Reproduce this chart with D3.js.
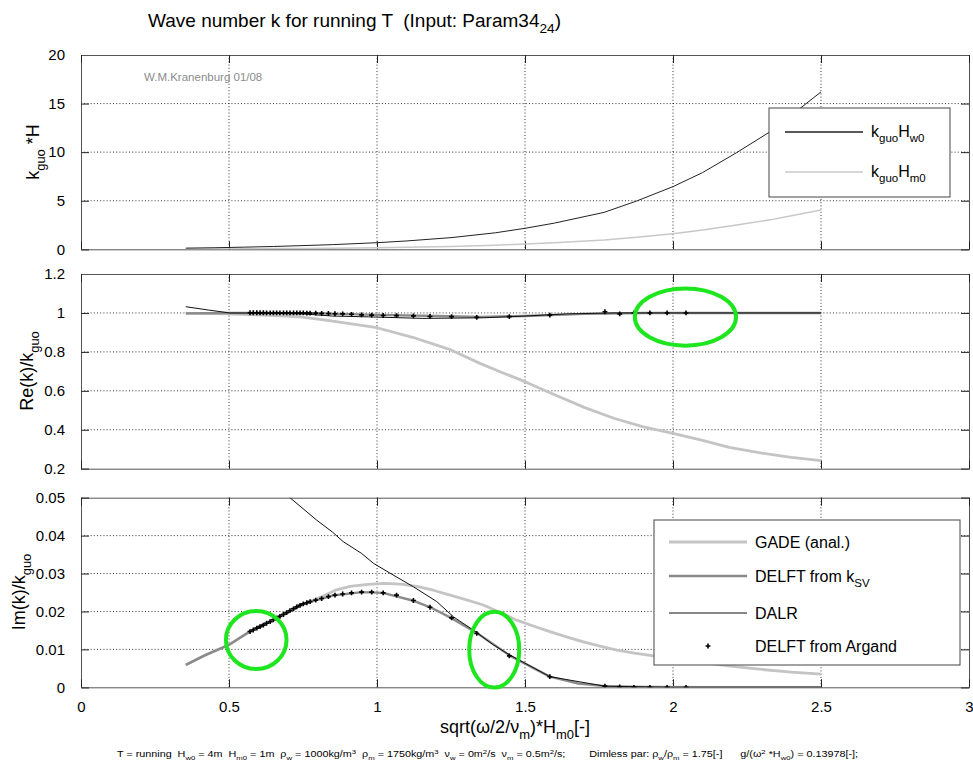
<!DOCTYPE html>
<html><head><meta charset="utf-8">
<script src="https://cdn.jsdelivr.net/npm/d3@7/dist/d3.min.js"></script>
<style>
body{margin:0;background:#fff}
svg text{font-family:"Liberation Sans",Arial,Helvetica,sans-serif;white-space:pre}
</style>
</head><body>
<svg id="c" width="973" height="769"></svg>
<script>
// ---------------- DATA ----------------
const xTicks = [0, 0.5, 1, 1.5, 2, 2.5, 3];
const xTickLabels = ["0", "0.5", "1", "1.5", "2", "2.5", "3"];
const topTicks = [0, 5, 10, 15, 20];
const topTickLabels = ["0", "5", "10", "15", "20"];
const midTicks = [0.2, 0.4, 0.6, 0.8, 1, 1.2];
const midTickLabels = ["0.2", "0.4", "0.6", "0.8", "1", "1.2"];
const botTicks = [0, 0.01, 0.02, 0.03, 0.04, 0.05];
const botTickLabels = ["0", "0.01", "0.02", "0.03", "0.04", "0.05"];

// top panel: k_guo * H
const kguoX   = [0.354, 0.45, 0.55, 0.65, 0.75, 0.85, 1.0, 1.1, 1.25, 1.4, 1.5, 1.6, 1.767, 1.877, 2.0, 2.1, 2.215, 2.328, 2.4, 2.5];
const kguoHw0 = [0.12, 0.16, 0.22, 0.29, 0.38, 0.48, 0.68, 0.86, 1.2, 1.7, 2.16, 2.7, 3.8, 4.97, 6.45, 7.9, 9.95, 12.1, 13.8, 16.2];
const kguoHm0 = [0.03, 0.04, 0.055, 0.0725, 0.095, 0.12, 0.17, 0.215, 0.3, 0.425, 0.54, 0.675, 0.95, 1.24, 1.61, 1.975, 2.49, 3.03, 3.45, 4.05];

// middle panel: Re(k)/k_guo
const gadeReX = [0.354, 0.5, 0.6, 0.74, 0.82, 0.85, 1.0, 1.12, 1.25, 1.348, 1.416, 1.5, 1.6, 1.7, 1.8, 1.9, 2.0, 2.1, 2.19, 2.3, 2.4, 2.5];
const gadeRe  = [0.998, 0.995, 0.99, 0.98, 0.964, 0.958, 0.924, 0.875, 0.81, 0.741, 0.698, 0.647, 0.58, 0.515, 0.459, 0.415, 0.382, 0.345, 0.31, 0.28, 0.258, 0.241];
const ksvReX  = [0.354, 0.5, 0.6, 0.8, 1.0, 1.2, 1.35, 1.5, 1.7, 1.9, 2.0, 2.5];
const ksvRe   = [0.998, 1.0, 1.0, 0.998, 0.99, 0.984, 0.98, 0.984, 0.995, 1.0, 1.0, 1.0];
const dalrReX = [0.354, 0.43, 0.503, 0.6, 0.75, 0.85, 0.97, 1.155, 1.36, 1.5, 1.64, 1.8, 2.0, 2.5];
const dalrRe  = [1.032, 1.015, 1.0, 0.999, 0.995, 0.984, 0.98, 0.972, 0.975, 0.984, 0.995, 1.0, 1.0, 1.0];

// bottom panel: Im(k)/k_guo
const gadeImX = [0.354, 0.42, 0.5, 0.571, 0.661, 0.729, 0.796, 0.86, 0.909, 0.96, 1.021, 1.08, 1.134, 1.19, 1.247, 1.3, 1.359, 1.42, 1.472, 1.53, 1.584, 1.64, 1.697, 1.75, 1.81, 1.87, 1.934, 2.0, 2.1, 2.2, 2.3, 2.4, 2.5];
const gadeIm  = [0.0059, 0.0085, 0.0112, 0.0148, 0.0184, 0.0214, 0.0233, 0.0256, 0.0266, 0.0271, 0.0274, 0.0272, 0.0266, 0.0256, 0.0243, 0.0231, 0.0217, 0.0196, 0.0177, 0.0161, 0.0147, 0.0133, 0.0120, 0.0109, 0.0098, 0.0090, 0.0083, 0.0076, 0.0065, 0.0055, 0.0047, 0.0040, 0.0035];
const ksvImX  = [0.354, 0.42, 0.5, 0.571, 0.661, 0.75, 0.85, 0.95, 1.02, 1.12, 1.18, 1.25, 1.34, 1.45, 1.584, 1.68, 1.77, 1.9, 2.1, 2.3, 2.5];
const ksvIm   = [0.0059, 0.0085, 0.0112, 0.0147, 0.0182, 0.0220, 0.0242, 0.0251, 0.0249, 0.0229, 0.0211, 0.0183, 0.0142, 0.0083, 0.0028, 0.0010, 0.0003, 0.0001, 0, 0, 0];
const dalrImX = [0.354, 0.45, 0.55, 0.65, 0.706, 0.796, 0.85, 0.886, 0.948, 0.988, 1.044, 1.123, 1.202, 1.258, 1.325, 1.393, 1.449, 1.584, 1.77, 2.0, 2.5];
const dalrIm  = [0.085, 0.072, 0.062, 0.054, 0.050, 0.0441, 0.0409, 0.0384, 0.0353, 0.0327, 0.0301, 0.0265, 0.0226, 0.0186, 0.0151, 0.0112, 0.0085, 0.0028, 0.0003, 0.0, 0.0];

// DELFT from Argand (markers)
const argandX  = [0.571, 0.582, 0.594, 0.605, 0.616, 0.627, 0.639, 0.650, 0.661, 0.672, 0.684, 0.695, 0.706, 0.718, 0.729, 0.740, 0.751, 0.763, 0.774,
                  0.793, 0.813, 0.836, 0.858, 0.884, 0.914, 0.948, 0.982, 1.021, 1.066, 1.123, 1.179, 1.252, 1.337, 1.447, 1.584, 1.770, 1.820, 1.868, 1.922, 1.980, 2.044];
const argandRe = [1.001, 1.001, 1.001, 1.001, 1.001, 1.0, 1.0, 1.0, 1.0, 1.0, 1.0, 1.0, 1.0, 1.0, 1.0, 1.0, 1.0, 0.999, 0.999,
                  0.999, 0.998, 0.997, 0.996, 0.995, 0.993, 0.990, 0.989, 0.987, 0.986, 0.985, 0.982, 0.981, 0.977, 0.981, 0.989, 1.006, 0.995, 1.0, 1.0, 1.0, 1.0];
const argandIm = [0.0147, 0.0151, 0.0156, 0.0160, 0.0164, 0.0169, 0.0173, 0.0178, 0.0182, 0.0187, 0.0192, 0.0197, 0.0202, 0.0207, 0.0212, 0.0216, 0.0220, 0.0223, 0.0226,
                  0.0230, 0.0234, 0.0239, 0.0243, 0.0246, 0.0249, 0.0251, 0.0251, 0.0249, 0.0243, 0.0229, 0.0211, 0.0183, 0.0142, 0.0083, 0.0028, 0.0003, 0.0001, 0, 0, 0, 0];

const legendTop = ["k_guo H_w0", "k_guo H_m0"];
const legendBot = ["GADE (anal.)", "DELFT from k_SV", "DALR", "DELFT from Argand"];

// ---------------- LAYOUT / STYLE ----------------
const svg = d3.select("#c");
const X0 = 81, X1 = 969;
const x = d3.scaleLinear().domain([0, 3]).range([X0, X1]);
const C = {gade: "#c4c4c4", ksv: "#8a8a8a", dalr: "#111", hw0: "#222", hm0: "#c8c8c8", frame: "#555", green: "#1ee61e"};
const FONT = 15;

function rich(t, parts, size) {
  let off = 0;
  parts.forEach(p => {
    const target = p.sub ? size * 0.32 : p.sup ? -size * 0.38 : 0;
    const ts = t.append("tspan").attr("dy", target - off).text(p.t);
    if (p.sub || p.sup) ts.attr("font-size", size * 0.72);
    off = target;
  });
}

function panel(top, bottom, domain, ticks, labels, id, showX) {
  const y = d3.scaleLinear().domain(domain).range([bottom, top]);
  const g = svg.append("g");
  svg.append("clipPath").attr("id", id).append("rect")
    .attr("x", X0).attr("y", top).attr("width", X1 - X0).attr("height", bottom - top);
  const grid = g.append("g").attr("stroke", "#000").attr("stroke-width", 0.8).attr("stroke-dasharray", "1,2.2");
  xTicks.slice(1, -1).forEach(v => grid.append("line").attr("x1", x(v)).attr("x2", x(v)).attr("y1", top).attr("y2", bottom));
  ticks.slice(1, -1).forEach(v => grid.append("line").attr("x1", X0).attr("x2", X1).attr("y1", y(v)).attr("y2", y(v)));
  const axL = d3.axisLeft(y).tickValues(ticks).tickSize(-8).tickPadding(16).tickFormat((d, i) => labels[i]);
  const axR = d3.axisRight(y).tickValues(ticks).tickSize(-8).tickFormat("");
  const axB = d3.axisBottom(x).tickValues(xTicks).tickSize(-8).tickPadding(14).tickFormat((d, i) => showX ? xTickLabels[i] : "");
  const axT = d3.axisTop(x).tickValues(xTicks).tickSize(-8).tickFormat("");
  [[axL, `translate(${X0},0)`], [axR, `translate(${X1},0)`], [axB, `translate(0,${bottom})`], [axT, `translate(0,${top})`]].forEach(([ax, tr]) => {
    const a = g.append("g").attr("transform", tr).call(ax);
    a.select(".domain").attr("stroke", C.frame);
    a.selectAll(".tick line").attr("stroke", "#222");
    a.selectAll(".tick text").attr("font-size", FONT).attr("fill", "#000")
      .attr("font-family", '"Liberation Sans",Arial,sans-serif');
  });
  const plot = svg.append("g").attr("clip-path", `url(#${id})`);
  return {y, plot, top, bottom};
}

function line(p, xs, ys, color, w) {
  const data = xs.map((v, i) => [v, ys[i]]);
  p.plot.append("path").datum(data)
    .attr("d", d3.line().x(d => x(d[0])).y(d => p.y(d[1])))
    .attr("fill", "none").attr("stroke", color).attr("stroke-width", w).attr("stroke-linejoin", "round");
}
const cross = d3.symbol().type(d3.symbolCross).size(13);
function markers(p, xs, ys) {
  p.plot.append("g").selectAll("path").data(xs.map((v, i) => [v, ys[i]])).join("path")
    .attr("d", cross).attr("transform", d => `translate(${x(d[0])},${p.y(d[1])})`).attr("fill", "#000");
}

const P1 = panel(55, 249.3, [0, 20], topTicks, topTickLabels, "cp1", false);
const P2 = panel(274, 468.7, [0.2, 1.2], midTicks, midTickLabels, "cp2", false);
const P3 = panel(497.7, 687.3, [0, 0.05], botTicks, botTickLabels, "cp3", true);

line(P1, kguoX, kguoHm0, C.hm0, 1.5);
line(P1, kguoX, kguoHw0, C.hw0, 1);
line(P2, gadeReX, gadeRe, C.gade, 2.8);
line(P2, ksvReX, ksvRe, C.ksv, 2.4);
line(P2, dalrReX, dalrRe, C.dalr, 1);
markers(P2, argandX, argandRe);
line(P3, gadeImX, gadeIm, C.gade, 2.8);
line(P3, ksvImX, ksvIm, C.ksv, 2.4);
line(P3, dalrImX, dalrIm, C.dalr, 1);
markers(P3, argandX, argandIm);

svg.append("text").attr("x", 144).attr("y", 81).attr("font-size", 11.5).attr("fill", "#8c8c8c").text("W.M.Kranenburg 01/08");

rich(svg.append("text").attr("x", 148).attr("y", 27).attr("font-size", 19),
  [{t: "Wave number k for running T  (Input: Param34"}, {t: "24", sub: 1}, {t: ")"}], 19);

const LAB = 18;
rich(svg.append("text").attr("transform", "translate(39,152) rotate(-90)").attr("text-anchor", "middle").attr("font-size", LAB),
  [{t: "k"}, {t: "guo", sub: 1}, {t: " *H"}], LAB);
rich(svg.append("text").attr("transform", "translate(33,371) rotate(-90)").attr("text-anchor", "middle").attr("font-size", LAB),
  [{t: "Re(k)/k"}, {t: "guo", sub: 1}], LAB);
rich(svg.append("text").attr("transform", "translate(25,592) rotate(-90)").attr("text-anchor", "middle").attr("font-size", LAB),
  [{t: "Im(k)/k"}, {t: "guo", sub: 1}], LAB);

rich(svg.append("text").attr("x", 515).attr("y", 733).attr("text-anchor", "middle").attr("font-size", LAB),
  [{t: "sqrt(\u03c9/2/\u03bd"}, {t: "m", sub: 1}, {t: ")*H"}, {t: "m0", sub: 1}, {t: "[-]"}], LAB);

const note = svg.append("text").attr("x", 117).attr("y", 757).attr("font-size", 8.5)
  .attr("textLength", 741).attr("lengthAdjust", "spacingAndGlyphs");
rich(note, [
  {t: "T = running  H"}, {t: "w0", sub: 1}, {t: " = 4m  H"}, {t: "m0", sub: 1}, {t: " = 1m  \u03c1"}, {t: "w", sub: 1},
  {t: " = 1000kg/m"}, {t: "3", sup: 1}, {t: "  \u03c1"}, {t: "m", sub: 1}, {t: " = 1750kg/m"}, {t: "3", sup: 1},
  {t: "  \u03bd"}, {t: "w", sub: 1}, {t: " = 0m"}, {t: "2", sup: 1}, {t: "/s  \u03bd"}, {t: "m", sub: 1}, {t: " = 0.5m"}, {t: "2", sup: 1},
  {t: "/s;        Dimless par: \u03c1"}, {t: "w", sub: 1}, {t: "/\u03c1"}, {t: "m", sub: 1}, {t: " = 1.75[-]      g/(\u03c9"}, {t: "2", sup: 1},
  {t: " *H"}, {t: "w0", sub: 1}, {t: ") = 0.13978[-];"}
], 8.5);

function legendBox(x0, y0, w, h) {
  svg.append("rect").attr("x", x0).attr("y", y0).attr("width", w).attr("height", h)
    .attr("fill", "#fff").attr("stroke", "#444").attr("stroke-width", 1);
}
function subParts(s) {
  const out = [];
  s.split(" ").forEach(tok => {
    const [a, b] = tok.split("_");
    out.push({t: a});
    if (b) out.push({t: b, sub: 1});
  });
  return out;
}
legendBox(769, 108, 181, 89);
const topColors = [C.hw0, C.hm0], topW = [1.3, 1.5];
legendTop.forEach((s, i) => {
  const yy = 132 + i * 40;
  svg.append("line").attr("x1", 785).attr("x2", 863).attr("y1", yy).attr("y2", yy).attr("stroke", topColors[i]).attr("stroke-width", topW[i]);
  rich(svg.append("text").attr("x", 871).attr("y", yy + 5).attr("font-size", 16), subParts(s), 16);
});
legendBox(654, 520, 306, 145);
const botStyles = [[C.gade, 2.8], [C.ksv, 2.4], [C.dalr, 1]];
legendBot.forEach((s, i) => {
  const yy = [542, 576, 613, 646][i];
  if (i < 3) svg.append("line").attr("x1", 669).attr("x2", 747).attr("y1", yy).attr("y2", yy).attr("stroke", botStyles[i][0]).attr("stroke-width", botStyles[i][1]);
  else svg.append("path").attr("d", cross).attr("transform", `translate(708,${yy})`).attr("fill", "#000");
  const parts = s.includes("_") ? [{t: s.split("_")[0]}, {t: s.split("_")[1], sub: 1}] : [{t: s}];
  rich(svg.append("text").attr("x", 755).attr("y", yy + 6).attr("font-size", 16), parts, 16);
});

// green annotation ellipses (data coordinates: center x, center y, radius x, radius y)
const marks = [
  {p: P2, cx: 2.042, cy: 0.979, rx: 0.171, ry: 0.147},
  {p: P3, cx: 0.592, cy: 0.01247, rx: 0.1024, ry: 0.00765},
  {p: P3, cx: 1.396, cy: 0.00992, rx: 0.0845, ry: 0.0100}
];
marks.forEach(m => {
  const y0 = m.p.y.domain()[0];
  svg.append("ellipse").attr("cx", x(m.cx)).attr("cy", m.p.y(m.cy))
    .attr("rx", x(m.rx) - x(0)).attr("ry", m.p.y(y0) - m.p.y(y0 + m.ry))
    .attr("fill", "none").attr("stroke", C.green).attr("stroke-width", 4);
});
</script>
</body></html>
